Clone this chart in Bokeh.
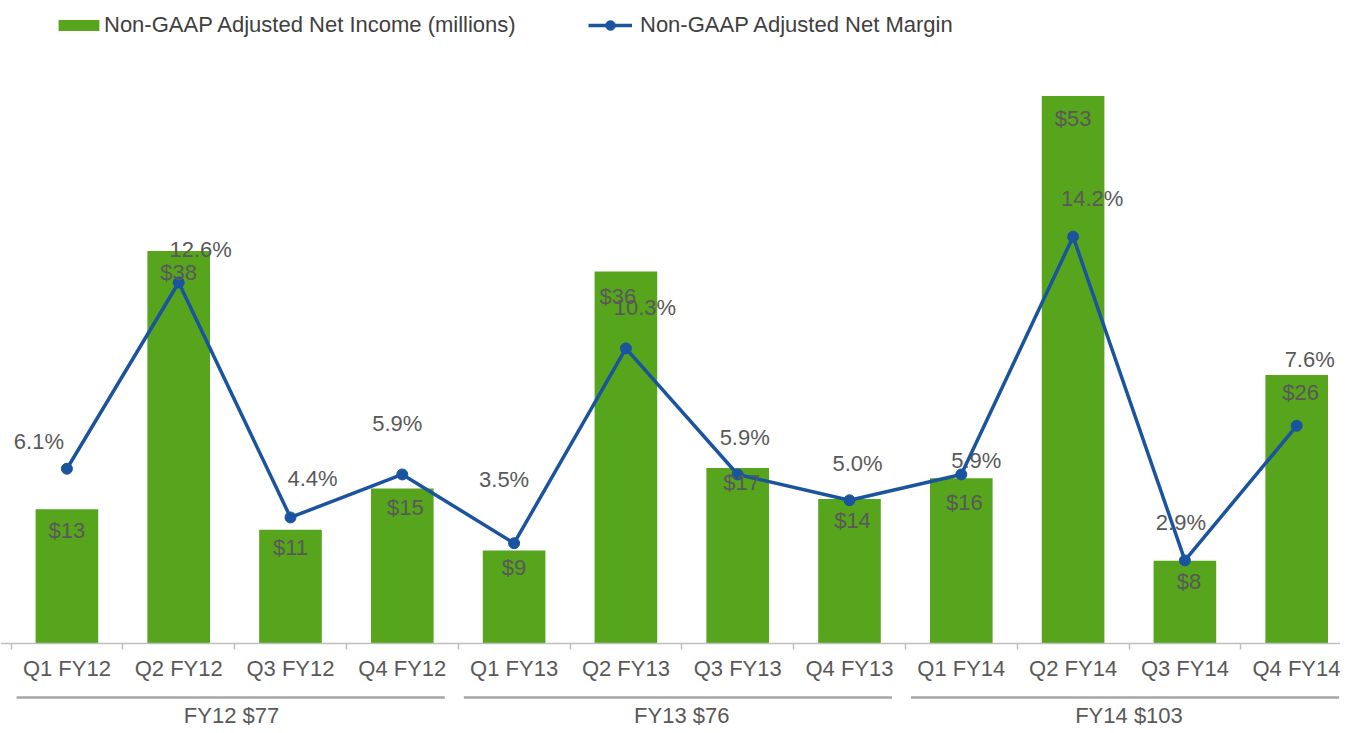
from bokeh.plotting import figure
from bokeh.models import (Range1d, LinearAxis, FixedTicker, Legend, LegendItem,
                          ColumnDataSource)
from bokeh.core.properties import value
from bokeh.embed import file_html
from bokeh.resources import INLINE

# ---------------- data ----------------
quarters = ["Q1 FY12", "Q2 FY12", "Q3 FY12", "Q4 FY12",
            "Q1 FY13", "Q2 FY13", "Q3 FY13", "Q4 FY13",
            "Q1 FY14", "Q2 FY14", "Q3 FY14", "Q4 FY14"]
net_income = [13, 38, 11, 15, 9, 36, 17, 14, 16, 53, 8, 26]          # $ millions
net_margin = [6.1, 12.6, 4.4, 5.9, 3.5, 10.3, 5.9, 5.0, 5.9, 14.2, 2.9, 7.6]  # %
group_labels = ["FY12  $77", "FY13 $76", "FY14 $103"]
group_first = [0, 4, 8]
group_last = [3, 7, 11]

# ---------------- styling / label nudges (pixels) ----------------
inc_dx = [0, 0, 0, 3, 0, -8, 4, 3, 3, 0, 4, 4]
inc_dy = [21, 22, 18, 19, 17, 25, 15, 22, 24, 22, 21, 18]
mar_dx = [-28, 22, 22, -5, -10, 19, 7, 8, 15, 19, -4, 13]
mar_dy = [-27, -33, -39, -51, -64, -41, -37, -37, -14, -38, -38, -66]

GREEN = "#57A41D"
BLUE = "#1B549E"
TXT = "#595959"
FONT = "Liberation Sans"

W, H = 1340, 730
ZERO_PX = 643          # distance from canvas top to zero line
PX_INC = 10.33         # px per $1M
PX_PCT = 28.65         # px per 1%
CAT_PX = 111.8         # px per quarter
LEFT_PX = 10.5         # first category boundary

inc_top = ZERO_PX / PX_INC
inc_bot = -(H - ZERO_PX) / PX_INC
pct_top = ZERO_PX / PX_PCT
pct_bot = -(H - ZERO_PX) / PX_PCT

x_start = -0.5 - LEFT_PX / CAT_PX
x_end = x_start + W / CAT_PX

p = figure(width=W, height=H, output_backend="svg", toolbar_location=None,
           x_range=Range1d(x_start, x_end), y_range=Range1d(inc_bot, inc_top),
           x_axis_location=None, y_axis_location=None,
           min_border=0, min_border_left=0, min_border_right=0,
           min_border_top=0, min_border_bottom=0)
p.extra_y_ranges = {"pct": Range1d(pct_bot, pct_top)}
p.outline_line_color = None
p.grid.visible = False
p.background_fill_color = "white"

xs = list(range(len(quarters)))
src = ColumnDataSource(dict(
    x=xs, inc=net_income, mar=net_margin,
    inc_lbl=[f"${v:g}" for v in net_income],
    mar_lbl=[f"{v:.1f}%" for v in net_margin],
    inc_dx=inc_dx, inc_dy=inc_dy, mar_dx=mar_dx, mar_dy=mar_dy,
))

bars = p.vbar(x="x", top="inc", width=0.56, source=src,
              fill_color=GREEN, line_color=None)

line = p.line(x="x", y="mar", source=src, y_range_name="pct",
              line_color=BLUE, line_width=3.5)
dots = p.scatter(x="x", y="mar", source=src, y_range_name="pct",
                 marker="circle", size=11, fill_color=BLUE, line_color=BLUE)

# x axis at zero
xaxis = LinearAxis(fixed_location=0,
                   ticker=FixedTicker(ticks=xs, minor_ticks=[i - 0.5 for i in range(13)]),
                   major_label_overrides={i: q for i, q in enumerate(quarters)},
                   axis_line_color="#BFBFBF", axis_line_width=1.5,
                   major_tick_line_color=None, major_tick_in=0, major_tick_out=0,
                   minor_tick_line_color="#BFBFBF", minor_tick_in=0, minor_tick_out=6,
                   minor_tick_line_width=1.5,
                   major_label_standoff=6,
                   major_label_text_font=FONT, major_label_text_font_size="22px",
                   major_label_text_color=TXT)
p.add_layout(xaxis, "below")

# data labels
p.text(x="x", y="inc", text="inc_lbl", source=src, x_offset="inc_dx", y_offset="inc_dy",
       text_align="center", text_baseline="middle", text_font=value(FONT),
       text_font_size="22px", text_color=TXT)
p.text(x="x", y="mar", text="mar_lbl", source=src, y_range_name="pct",
       x_offset="mar_dx", y_offset="mar_dy",
       text_align="center", text_baseline="middle", text_font=value(FONT),
       text_font_size="22px", text_color=TXT)

# fiscal-year group lines and labels
line_y = -(697 - ZERO_PX) / PX_INC
lab_y = -(715 - ZERO_PX) / PX_INC
gsrc = ColumnDataSource(dict(
    x0=[f - 0.5 + 0.05 for f in group_first],
    x1=[l + 0.5 - 0.12 for l in group_last],
    y=[line_y] * 3,
    xc=[(f + l) / 2 for f, l in zip(group_first, group_last)],
    yl=[lab_y] * 3,
    lbl=group_labels,
))
p.segment(x0="x0", y0="y", x1="x1", y1="y", source=gsrc,
          line_color="#A6A6A6", line_width=2.5)
p.text(x="xc", y="yl", text="lbl", source=gsrc, text_align="center",
       text_baseline="middle", text_font=value(FONT), text_font_size="22px",
       text_color=TXT)

# legends
def make_legend(label, renderers, x, gw, gh, standoff):
    return Legend(items=[LegendItem(label=label, renderers=renderers)],
                  location=(x, H - 38), orientation="horizontal",
                  glyph_width=gw, glyph_height=gh, label_standoff=standoff,
                  padding=0, margin=0, spacing=0,
                  border_line_color=None, background_fill_alpha=0,
                  label_text_font=FONT, label_text_font_size="22px",
                  label_text_color="#404040")

p.add_layout(make_legend("Non-GAAP Adjusted Net Income (millions)", [bars], 53, 51, 14, 0))
p.add_layout(make_legend("Non-GAAP Adjusted Net Margin", [line, dots], 588, 44, 24, 8))

open("out.html", "w").write(file_html(p, INLINE))
